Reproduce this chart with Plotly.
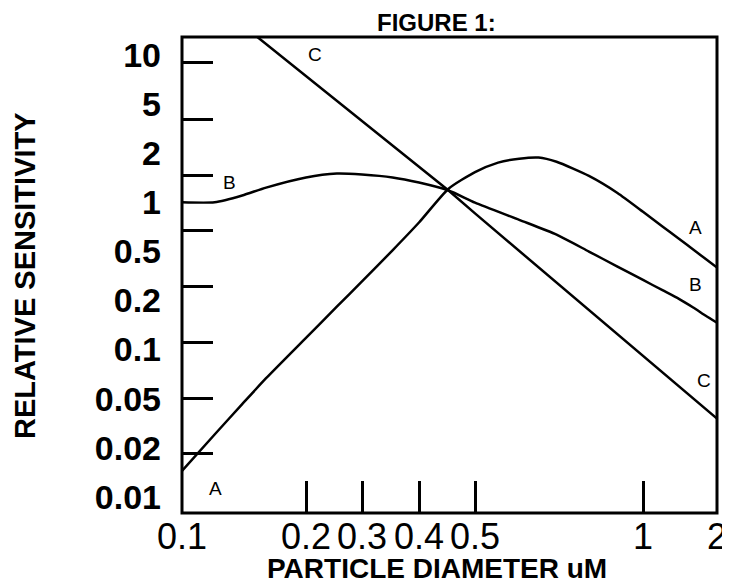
import numpy as np
import plotly.graph_objects as go

# ---- data ----
DIAMETER_A = [0.1, 0.12, 0.14, 0.16, 0.2, 0.25, 0.3, 0.35, 0.4, 0.45, 0.5, 0.55, 0.6, 0.65, 0.7,
              0.8, 0.9, 1.0, 1.2, 1.4, 1.6, 1.8, 2.0]
SENS_A = [0.0144, 0.0256, 0.0451, 0.0667, 0.118, 0.183, 0.285, 0.507, 0.751, 1.21, 1.53, 1.75, 1.85,
          1.88, 1.77, 1.45, 1.14, 0.874, 0.710, 0.597, 0.513, 0.433, 0.370]

DIAMETER_B = [0.1, 0.12, 0.14, 0.16, 0.2, 0.25, 0.3, 0.35, 0.4, 0.45, 0.5, 0.6, 0.7, 0.8, 0.9,
              1.0, 1.2, 1.4, 1.6, 1.8, 2.0]
SENS_B = [1.0, 1.0, 1.10, 1.23, 1.42, 1.50, 1.48, 1.42, 1.32, 1.18, 0.994, 0.780, 0.633, 0.498,
          0.376, 0.293, 0.242, 0.206, 0.181, 0.161, 0.146]

DIAMETER_C = [0.15, 0.2, 0.3, 0.4, 0.45, 0.5, 0.7, 1.0, 1.4, 2.0]
SENS_C = [13.3, 7.4, 3.62, 1.64, 1.18, 0.854, 0.279, 0.0911, 0.0593, 0.0344]

# ---- printed (irregular) axis scales ----
X_TICK_LABELS = [0.1, 0.2, 0.3, 0.4, 0.5, 1, 2]
X_TICK_POS = [0, 124, 180, 237, 293, 461, 535]
Y_TICK_LABELS = [10, 5, 2, 1, 0.5, 0.2, 0.1, 0.05, 0.02, 0.01]
Y_TICK_POS = list(range(len(Y_TICK_LABELS)))
Y_MARK_POS = [0.163, 1.321, 2.459, 3.577, 4.715, 5.854, 6.992, 8.110]


def scale(v, labels, pos):
    xp = np.log10(np.asarray(labels, dtype=float))
    fp = np.asarray(pos, dtype=float)
    if xp[0] > xp[-1]:
        xp = -xp
        lv = -np.log10(np.asarray(v, dtype=float))
    else:
        lv = np.log10(np.asarray(v, dtype=float))
    out = np.interp(lv, xp, fp)
    lo = lv < xp[0]
    hi = lv > xp[-1]
    out[lo] = fp[0] + (lv[lo] - xp[0]) * (fp[1] - fp[0]) / (xp[1] - xp[0])
    out[hi] = fp[-1] + (lv[hi] - xp[-1]) * (fp[-1] - fp[-2]) / (xp[-1] - xp[-2])
    return out


def sx(v):
    return scale(v, X_TICK_LABELS, X_TICK_POS)


def sy(v):
    return scale(v, Y_TICK_LABELS, Y_TICK_POS)


FONT = "Liberation Sans, Arial, Helvetica, sans-serif"
LINE = dict(color="black", width=2.5)

fig = go.Figure()
fig.add_trace(go.Scatter(x=sx(DIAMETER_A), y=sy(SENS_A), mode="lines", name="A",
                         line=dict(**LINE, shape="spline", smoothing=0.6), hoverinfo="skip"))
fig.add_trace(go.Scatter(x=sx(DIAMETER_B), y=sy(SENS_B), mode="lines", name="B",
                         line=dict(**LINE, shape="spline", smoothing=0.6), hoverinfo="skip"))
fig.add_trace(go.Scatter(x=sx(DIAMETER_C), y=sy(SENS_C), mode="lines", name="C",
                         line=LINE, hoverinfo="skip", yaxis="y2"))

YRANGE = [9.33, -0.366]

fig.update_layout(
    width=722, height=576,
    margin=dict(l=174, r=13, t=29, b=71, pad=0, autoexpand=False),
    paper_bgcolor="white", plot_bgcolor="white",
    showlegend=False,
    xaxis=dict(range=[0, 535], tickvals=X_TICK_POS, ticktext=[str(v) for v in X_TICK_LABELS],
               ticks="inside", ticklen=32, tickwidth=3, tickcolor="black",
               showgrid=False, zeroline=False, showline=False, automargin=False,
               tickfont=dict(family=FONT, size=36, color="black"), ticklabelstandoff=-1),
    yaxis=dict(range=YRANGE, tickvals=Y_TICK_POS, ticktext=[str(v) for v in Y_TICK_LABELS],
               ticks="", showgrid=False, zeroline=False, showline=False, automargin=False,
               tickfont=dict(family=FONT, size=34, color="black", weight="bold"),
               ticklabelstandoff=20),
    yaxis2=dict(range=YRANGE, overlaying="y", side="left", tickvals=Y_MARK_POS,
                ticks="inside", ticklen=31, tickwidth=3, tickcolor="black", automargin=False,
                showticklabels=False, showgrid=False, zeroline=False, showline=False),
    shapes=[dict(type="rect", xref="paper", yref="paper", x0=0, x1=1, y0=0, y1=1,
                 line=dict(color="black", width=3), layer="above")],
)

ann_font = dict(family=FONT, size=19, color="black")
letters = [("C", 0.2486, 0.9622), ("B", 0.0897, 0.6933), ("A", 0.9589, 0.6008),
           ("B", 0.9589, 0.4790), ("C", 0.9757, 0.2794), ("A", 0.0617, 0.0525)]
for t, xp, yp in letters:
    fig.add_annotation(text=t, x=xp, y=yp, xref="paper", yref="paper", showarrow=False,
                       xanchor="center", yanchor="middle", font=ann_font)

fig.add_annotation(text="FIGURE 1:", x=0.4748, y=1.0315, xref="paper", yref="paper",
                   showarrow=False, xanchor="center", yanchor="middle",
                   font=dict(family=FONT, size=24, color="black", weight="bold"))
fig.add_annotation(text="PARTICLE DIAMETER uM", x=0.477, y=-0.117, xref="paper", yref="paper",
                   showarrow=False, xanchor="center", yanchor="middle",
                   font=dict(family=FONT, size=28, color="black", weight="bold"))
fig.add_annotation(text="RELATIVE SENSITIVITY", x=-0.2935, y=0.5, xref="paper", yref="paper",
                   showarrow=False, xanchor="center", yanchor="middle", textangle=-90,
                   font=dict(family=FONT, size=29, color="black", weight="bold"))

fig.write_html("out.html")
